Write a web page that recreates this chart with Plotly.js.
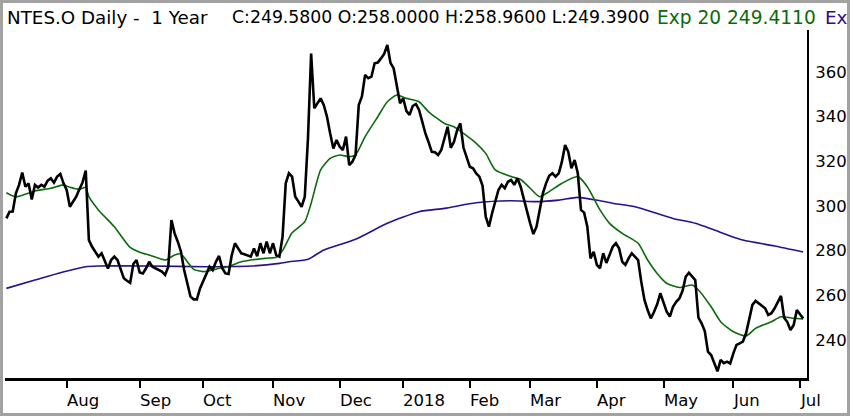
<!DOCTYPE html>
<html>
<head>
<meta charset="utf-8">
<script src="https://cdn.plot.ly/plotly-3.0.1.min.js"></script>
<style>
  html, body { margin: 0; padding: 0; background: #ffffff; }
  #chart { width: 844px; height: 410px; border: 3px solid #a2a2a2; overflow: hidden; }
</style>
</head>
<body>
<div id="chart"></div>
<script>
// Daily closes, one per trading day (index 1 = early Jul 2017)
const closes = [
  294.4, 297.4, 297.5, 305.6, 309.4, 314.9, 308.6, 310.0, 302.9, 309.4,
  308.2, 309.4, 308.6, 311.3, 312.3, 310.4, 313.1, 314.3, 310.1, 307.1,
  299.6, 301.9, 304.1, 307.4, 310.5, 315.8, 284.7, 281.7, 279.5, 277.3,
  278.8, 275.0, 272.0, 275.8, 277.3, 275.8, 271.3, 267.6, 266.5, 265.6,
  274.0, 275.8, 270.2, 269.8, 272.1, 275.0, 272.8, 272.0, 271.3, 270.6,
  269.1, 272.8, 293.7, 287.7, 284.0, 279.5, 271.3, 264.6, 259.4, 258.2,
  258.2, 263.1, 266.1, 269.8, 272.8, 271.3, 275.0, 277.6, 272.1, 269.8,
  269.5, 278.0, 283.3, 281.0, 278.8, 278.4, 278.0, 277.3, 281.0, 277.5,
  283.3, 278.8, 284.0, 278.8, 283.3, 278.0, 277.3, 286.2, 310.1, 314.6,
  313.1, 304.1, 301.9, 299.6, 304.1, 330.0, 368.2, 343.7, 345.9, 348.1,
  345.1, 339.9, 332.4, 325.7, 329.5, 326.5, 325.0, 331.0, 318.3, 319.8,
  322.8, 345.1, 349.0, 358.6, 357.1, 357.8, 363.8, 364.1, 366.0, 368.0,
  372.0, 364.0, 361.5, 353.0, 345.9, 348.1, 342.5, 340.7, 344.7, 345.6,
  342.9, 337.7, 332.4, 328.5, 324.2, 324.0, 322.8, 325.0, 330.2, 335.4,
  326.0, 328.7, 333.9, 336.9, 326.0, 321.3, 317.5, 316.8, 314.5, 313.1,
  309.0, 295.2, 290.7, 296.7, 302.6, 307.1, 309.4, 307.9, 310.8, 311.6,
  309.4, 312.3, 308.6, 303.0, 296.7, 292.2, 287.4, 290.7, 298.2, 305.6,
  310.1, 313.5, 314.6, 313.1, 314.6, 319.8, 327.2, 324.2, 316.8, 320.5,
  314.6, 298.2, 297.0, 290.7, 276.5, 279.5, 273.6, 272.1, 278.8, 274.5,
  278.0, 281.7, 283.3, 281.0, 275.0, 273.6, 276.5, 278.8, 277.3, 275.8,
  266.0, 257.9, 253.4, 249.7, 252.5, 256.0, 260.9, 256.4, 252.7, 250.5,
  254.9, 257.1, 258.6, 262.0, 268.3, 270.1, 268.3, 266.8, 250.0, 247.5,
  244.0, 234.8, 233.3, 229.6, 226.0, 231.1, 229.6, 230.3, 229.5, 234.0,
  237.8, 238.5, 239.3, 243.0, 248.9, 255.7, 257.5, 256.4, 255.5, 254.2,
  251.2, 252.0, 254.2, 256.8, 259.7, 250.0, 248.0, 244.5, 246.7, 253.4,
  251.5, 249.58
];
const days = closes.map((_, i) => i + 1);

// Exp 20 moving average, read at sampled trading days
const ema20Days = [1, 4, 10, 15, 19, 21, 24, 26, 27, 30, 35, 40, 43, 46, 51, 54, 56, 58, 60, 63,
  66, 68, 71, 74, 78, 83, 86, 88, 90, 91, 95, 97, 100, 103, 106, 109, 111, 114, 118, 121,
  124, 127, 131, 134, 139, 142, 145, 149, 152, 155, 160, 163, 166, 169, 172, 176, 181, 184, 188, 191,
  195, 200, 203, 206, 209, 213, 217, 219, 223, 226, 230, 234, 237, 242, 245, 249, 252];
const ema20 = [305.9, 304.1, 306.7, 307.9, 309.4, 308.3, 307.4, 308.3, 304.1, 298.2, 290.7, 281.4, 279.3, 278.0, 275.8, 278.0, 278.5, 275.0, 271.6, 270.6,
  271.3, 272.1, 272.8, 274.6, 275.8, 276.6, 277.0, 280.0, 285.5, 288.0, 292.9, 301.2, 316.1, 321.3, 322.8, 322.0, 322.8, 331.0, 339.9, 346.6,
  349.6, 348.1, 346.6, 342.1, 336.9, 335.4, 332.4, 328.0, 323.5, 316.1, 313.1, 311.8, 307.9, 304.1, 306.4, 310.1, 313.1, 308.6, 298.2, 292.2,
  287.7, 283.3, 275.8, 269.8, 265.4, 263.5, 264.6, 262.4, 254.9, 248.2, 243.7, 241.8, 245.2, 248.2, 250.4, 249.7, 249.41];

// Second (long) exponential average
const ema200Days = [1, 10, 18, 26, 30, 46, 64, 78, 87, 90, 96, 101, 111, 121, 131, 139, 149, 160, 168, 175,
  181, 188, 192, 199, 211, 218, 224, 233, 243, 252];
const ema200 = [263.1, 266.8, 270.1, 272.8, 273.1, 273.1, 272.8, 273.1, 274.3, 275.0, 276.1, 280.3, 285.1, 292.2, 297.4, 298.9, 301.4, 302.3, 301.9, 302.6,
  303.8, 302.3, 301.2, 299.6, 294.4, 292.2, 289.2, 284.7, 282.1, 279.4];

const monthIdx = [20, 43, 63, 85, 106, 126, 147, 166, 187, 208, 230, 251];
const monthLabels = ['Aug', 'Sep', 'Oct', 'Nov', 'Dec', '2018', 'Feb', 'Mar', 'Apr', 'May', 'Jun', 'Jul'];
const yTicks = [240, 260, 280, 300, 320, 340, 360];

// Header texts
const headerName = 'NTES.O Daily -\u00A0\u00A01 Year';
const headerOHLC = 'C:249.5800 O:258.0000 H:258.9600 L:249.3900';
const headerExp20 = 'Exp 20 249.4110';
const headerExp2 = 'Ex';

const FONT = 'DejaVu Sans, Verdana, sans-serif';
const GREEN = '#0b6b0b';
const BLUE = '#2c0f8f';

const traces = [
  { x: ema200Days, y: ema200, type: 'scatter', mode: 'lines',
    line: { color: BLUE, width: 1.6, shape: 'spline', smoothing: 0.6 }, hoverinfo: 'skip' },
  { x: ema20Days, y: ema20, type: 'scatter', mode: 'lines',
    line: { color: GREEN, width: 1.6, shape: 'spline', smoothing: 0.6 }, hoverinfo: 'skip' },
  { x: days, y: closes, type: 'scatter', mode: 'lines',
    line: { color: '#000000', width: 2.6, shape: 'linear' } }
];

const annotations = monthIdx.map((d, i) => ({
  x: d, xref: 'x', y: -0.066, yref: 'paper',
  text: monthLabels[i], showarrow: false,
  xanchor: 'left', yanchor: 'middle', xshift: -2,
  font: { family: FONT, size: 16.5, color: '#000000' }
}));

function header(text, x, size, color) {
  return {
    x: x, xref: 'paper', y: 1.037, yref: 'paper',
    xanchor: 'left', yanchor: 'middle', showarrow: false, xshift: -2,
    text: text, font: { family: FONT, size: size, color: color }
  };
}
annotations.push(header(headerName, 0.0025, 18.3, '#000000'));
annotations.push(header(headerOHLC, 0.283, 17.3, '#000000'));
annotations.push(header(headerExp20, 0.813, 18.6, GREEN));
annotations.push(header(headerExp2, 1.022, 18.4, BLUE));

const layout = {
  width: 844, height: 410,
  margin: { l: 2, r: 40, t: 27, b: 35, pad: 0 },
  paper_bgcolor: '#ffffff', plot_bgcolor: '#ffffff',
  showlegend: false,
  xaxis: {
    range: [0.57, 253.2],
    tickvals: monthIdx, showticklabels: false,
    ticks: 'outside', ticklen: 7, tickwidth: 2, tickcolor: '#000000',
    showline: true, linecolor: '#000000', linewidth: 2.5,
    showgrid: false, zeroline: false, fixedrange: true
  },
  yaxis: {
    side: 'right', range: [223.0, 378.7],
    tickvals: yTicks, ticktext: yTicks.map(String),
    ticks: '', showline: true, linecolor: '#000000', linewidth: 2,
    showgrid: false, zeroline: false,
    tickfont: { family: FONT, size: 16.5, color: '#000000' },
    ticklabelstandoff: 3, fixedrange: true
  },
  annotations: annotations
};

Plotly.newPlot('chart', traces, layout, { staticPlot: true, displayModeBar: false });
</script>
</body>
</html>
